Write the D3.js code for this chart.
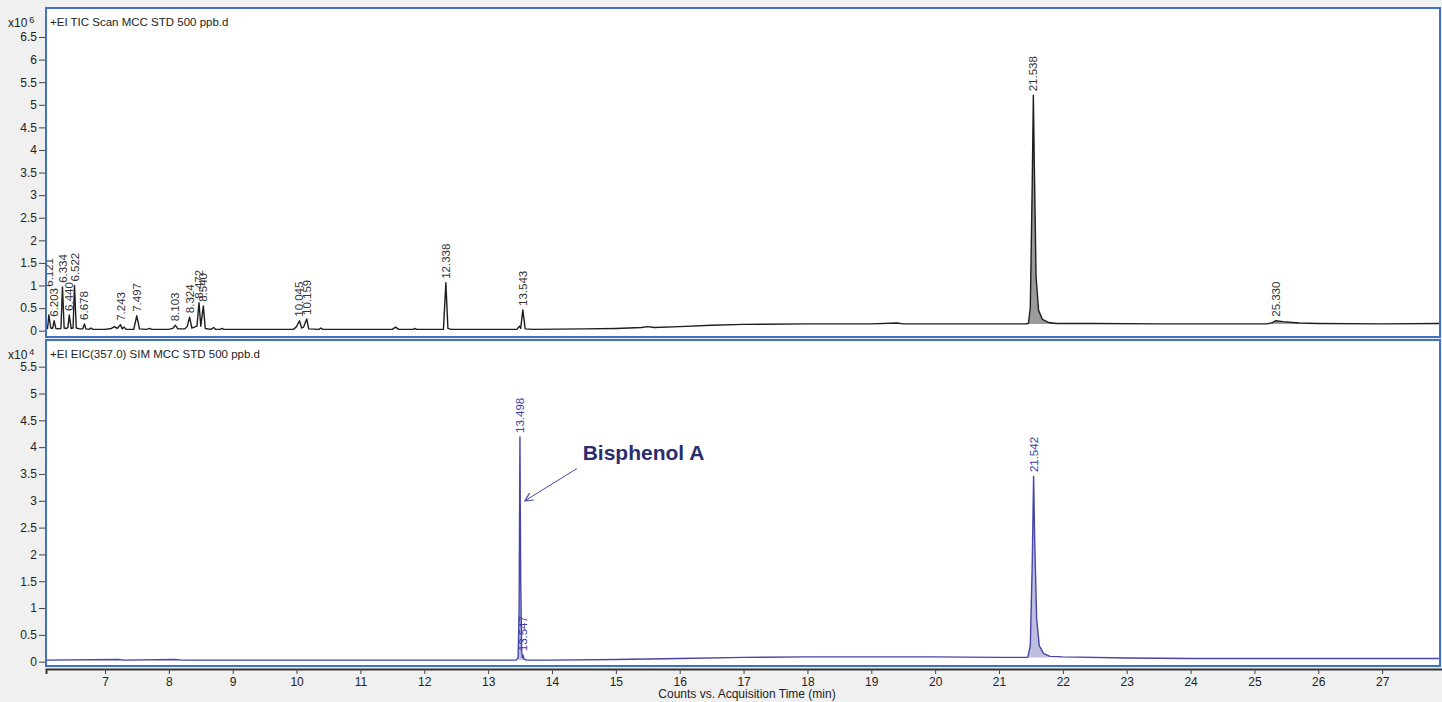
<!DOCTYPE html>
<html>
<head>
<meta charset="utf-8">
<script src="https://cdn.jsdelivr.net/npm/d3@7"></script>
<style>
  body { margin: 0; background: #f0f0f0; font-family: "Liberation Sans", Arial, sans-serif; }
  svg { display: block; }
</style>
</head>
<body>
<script>
// TIC trace, time (min) vs counts x10^6
var ticTrace = [
  [6.08,0.08],[6.10,0.05],[6.121,0.35],[6.15,0.06],[6.18,0.05],[6.203,0.22],[6.23,0.05],[6.28,0.04],
  [6.31,0.05],[6.334,0.97],[6.36,0.06],[6.40,0.05],[6.42,0.08],[6.44,0.35],[6.47,0.05],[6.50,0.06],
  [6.522,1.0],[6.55,0.06],[6.60,0.04],[6.65,0.04],[6.678,0.15],[6.70,0.04],[6.75,0.03],[6.78,0.06],
  [6.81,0.03],[7.0,0.03],[7.10,0.05],[7.15,0.09],[7.19,0.05],[7.243,0.13],[7.27,0.04],[7.30,0.08],
  [7.33,0.03],[7.45,0.03],[7.497,0.33],[7.54,0.04],[7.65,0.03],[7.70,0.05],[7.73,0.03],[8.0,0.03],
  [8.06,0.05],[8.103,0.12],[8.14,0.04],[8.25,0.04],[8.29,0.1],[8.324,0.3],[8.36,0.06],[8.40,0.08],
  [8.44,0.1],[8.472,0.62],[8.50,0.1],[8.54,0.55],[8.57,0.05],[8.66,0.03],[8.70,0.07],[8.73,0.03],
  [8.80,0.03],[8.83,0.05],[8.86,0.03],[9.0,0.03],[9.5,0.03],[9.95,0.03],[10.00,0.09],[10.045,0.22],
  [10.08,0.06],[10.11,0.08],[10.159,0.26],[10.19,0.04],[10.35,0.03],[10.38,0.06],[10.41,0.03],
  [11.0,0.03],[11.5,0.03],[11.55,0.08],[11.6,0.03],[11.83,0.03],[11.85,0.05],[11.88,0.03],[12.30,0.03],
  [12.338,1.06],[12.37,0.05],[12.42,0.03],[13.0,0.03],[13.45,0.03],[13.49,0.1],[13.51,0.05],
  [13.543,0.46],[13.58,0.04],[13.7,0.03],[14.5,0.04],[15.0,0.05],[15.4,0.07],[15.5,0.09],[15.6,0.07],
  [16.0,0.09],[16.5,0.12],[17.0,0.14],[18.0,0.15],[19.0,0.15],[19.4,0.17],[19.5,0.15],[20.5,0.15],
  [21.40,0.15],[21.46,0.16],[21.49,0.5],[21.52,3.2],[21.538,5.21],[21.555,3.5],[21.58,1.2],
  [21.62,0.45],[21.68,0.25],[21.78,0.18],[21.9,0.16],[22.5,0.16],[23.5,0.15],[25.2,0.15],
  [25.28,0.18],[25.33,0.22],[25.45,0.2],[25.7,0.17],[26.0,0.16],[27.0,0.15],[28.0,0.16]
];
var ticPeaks = [
  [6.121,0.35],[6.203,0.22],[6.334,0.97],[6.440,0.35],[6.522,1.0],[6.678,0.15],[7.243,0.13],
  [7.497,0.33],[8.103,0.12],[8.324,0.3],[8.472,0.62],[8.540,0.55],[10.045,0.22],[10.159,0.26],
  [12.338,1.06],[13.543,0.46],[21.538,5.21],[25.330,0.22]
];
var ticFills = [[21.40,21.9,0.15],[25.2,25.9,0.15]];

// EIC(357.0) trace, time (min) vs counts x10^4
var eicTrace = [
  [6.08,0.03],[7.2,0.04],[7.3,0.03],[8.1,0.04],[8.2,0.03],[10,0.03],[12,0.03],[13.44,0.03],
  [13.47,0.08],[13.485,1.0],[13.498,4.19],[13.51,1.5],[13.525,0.2],[13.535,0.08],[13.547,0.12],
  [13.56,0.05],[13.6,0.03],[14,0.03],[15,0.04],[16,0.06],[17,0.08],[18,0.09],[19,0.09],[20,0.09],
  [21,0.08],[21.45,0.08],[21.49,0.3],[21.52,1.8],[21.542,3.46],[21.56,2.2],[21.59,0.8],[21.63,0.3],
  [21.7,0.15],[21.8,0.1],[22,0.09],[23,0.07],[24,0.06],[25,0.06],[26,0.06],[27,0.06],[28,0.06]
];
var eicPeaks = [[13.498,4.19],[13.547,0.12],[21.542,3.46]];
var eicFills = [[13.46,13.56,0.03],[21.45,21.8,0.08]];

var xTicks = d3.range(7, 28);
var ticYTicks = d3.range(0, 6.51, 0.5);
var eicYTicks = d3.range(0, 5.51, 0.5);

var W = 1442, H = 702;
var svg = d3.select('body').append('svg').attr('width', W).attr('height', H);

var x = d3.scaleLinear().domain([6.076, 28.0]).range([46, 1446]);

var panels = [
  { top: 8, bottom: 337, y: d3.scaleLinear().domain([0, 6.5]).range([330.7, 37]),
    trace: ticTrace, peaks: ticPeaks, fills: ticFills, ticks: ticYTicks, exp: '6',
    title: '+EI TIC Scan MCC STD 500 ppb.d', line: '#1e1e1e', fill: '#8a8a8a', label: '#333', name: 'tic' },
  { top: 340, bottom: 666, y: d3.scaleLinear().domain([0, 5.5]).range([661.7, 366.7]),
    trace: eicTrace, peaks: eicPeaks, fills: eicFills, ticks: eicYTicks, exp: '4',
    title: '+EI EIC(357.0) SIM MCC STD 500 ppb.d', line: '#4646a8', fill: '#b3b3da', label: '#3c3ca4', name: 'eic' }
];

// labels pushed above their right-hand neighbour
var stackedLabels = ['6.121'];

panels.forEach(function(p) {
  var g = svg.append('g');
  g.append('rect')
    .attr('x', 46).attr('y', p.top).attr('width', 1394).attr('height', p.bottom - p.top)
    .attr('fill', '#fff').attr('stroke', '#3f72c4').attr('stroke-width', 2);

  g.append('clipPath').attr('id', 'clip-' + p.name)
    .append('rect').attr('x', 47).attr('y', p.top + 1).attr('width', 1392).attr('height', p.bottom - p.top - 2);

  var plot = g.append('g').attr('clip-path', 'url(#clip-' + p.name + ')');

  var area = d3.area().x(d => x(d[0])).y1(d => p.y(d[1]));
  p.fills.forEach(function(f) {
    var pts = p.trace.filter(d => d[0] >= f[0] && d[0] <= f[1]);
    plot.append('path')
      .attr('fill', p.fill).attr('opacity', 0.85)
      .attr('d', area.y0(p.y(f[2]))(pts));
  });

  var line = d3.line().x(d => x(d[0])).y(d => p.y(d[1]));
  plot.append('path')
    .attr('fill', 'none').attr('stroke', p.line).attr('stroke-width', 1.4)
    .attr('stroke-linejoin', 'round')
    .attr('d', line(p.trace));

  // peak labels
  var placed = [];
  p.peaks.slice().reverse().forEach(function(pk) {
    var txt = pk[0].toFixed(3);
    var px = x(pk[0]);
    var bottom = p.y(pk[1]) - 4;
    var len = txt.length * 5.6;
    if (stackedLabels.indexOf(txt) >= 0) {
      placed.forEach(function(q) {
        if (Math.abs(q.x - px) < 8 && bottom > q.top) bottom = q.top - 2;
      });
    }
    placed.push({ x: px, top: bottom - len });
    plot.append('text')
      .attr('transform', 'translate(' + px + ',' + bottom + ') rotate(-90)')
      .attr('dy', '0.35em')
      .attr('font-size', 11.5)
      .attr('fill', p.label)
      .text(txt);
  });

  // y axis
  var yAxis = d3.axisLeft(p.y).tickValues(p.ticks).tickSize(6).tickPadding(2)
    .tickFormat(d3.format('~g'));
  var ya = g.append('g').attr('transform', 'translate(45,0)').call(yAxis);
  ya.select('.domain').remove();
  ya.selectAll('line').attr('stroke', '#444');
  ya.selectAll('text').attr('font-size', 12).attr('fill', '#222')
    .attr('font-family', '"Liberation Sans", Arial, sans-serif');

  // multiplier and title
  var mult = g.append('text').attr('x', 8).attr('y', p.top + 19)
    .attr('font-size', 12).attr('fill', '#222');
  mult.append('tspan').text('x10');
  mult.append('tspan').attr('dx', 2).attr('dy', -4).attr('font-size', 9).text(p.exp);

  g.append('text').attr('x', 50).attr('y', p.top + 18)
    .attr('font-size', 11.5).attr('fill', '#222').text(p.title);
});

// x axis
var xAxis = d3.axisBottom(x).tickValues(xTicks).tickSize(5).tickPadding(3).tickFormat(d3.format('d'));
var xa = svg.append('g').attr('transform', 'translate(0,669)').call(xAxis);
xa.select('.domain').attr('stroke', '#333').attr('stroke-width', 2);
xa.selectAll('line').attr('stroke', '#444');
xa.selectAll('text').attr('font-size', 12).attr('fill', '#222')
  .attr('font-family', '"Liberation Sans", Arial, sans-serif');

svg.append('text').attr('x', 747).attr('y', 698).attr('text-anchor', 'middle')
  .attr('font-size', 12).attr('fill', '#222').text('Counts vs. Acquisition Time (min)');

// Bisphenol A annotation on the EIC panel
var eicY = panels[1].y;
var annoText = { rt: 14.48, value: 3.76, label: 'Bisphenol A' };
var annoArrow = { from: [14.39, 3.6], to: [13.575, 3.0] };

svg.append('defs').append('marker')
  .attr('id', 'arrow').attr('viewBox', '0 0 10 10').attr('refX', 9).attr('refY', 5)
  .attr('markerWidth', 10).attr('markerHeight', 10).attr('markerUnits', 'userSpaceOnUse')
  .attr('orient', 'auto')
  .append('path').attr('d', 'M1,1 L9,5 L1,9').attr('fill', 'none')
  .attr('stroke', '#4a4aa0').attr('stroke-width', 1.2);

svg.append('line')
  .attr('x1', x(annoArrow.from[0])).attr('y1', eicY(annoArrow.from[1]))
  .attr('x2', x(annoArrow.to[0])).attr('y2', eicY(annoArrow.to[1]))
  .attr('stroke', '#4a4aa0').attr('stroke-width', 1)
  .attr('marker-end', 'url(#arrow)');

svg.append('text')
  .attr('x', x(annoText.rt)).attr('y', eicY(annoText.value))
  .attr('font-size', 21).attr('font-weight', 'bold').attr('fill', '#2c2c70')
  .text(annoText.label);
</script>
</body>
</html>
